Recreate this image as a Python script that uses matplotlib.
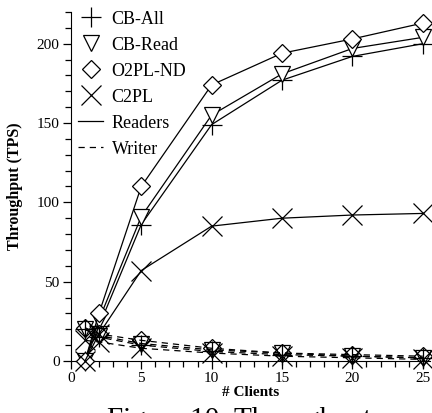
import matplotlib.pyplot as plt
from matplotlib.lines import Line2D
from matplotlib.ticker import MultipleLocator

plt.rcParams['font.family'] = ['Liberation Serif', 'DejaVu Serif']

clients = [1, 2, 5, 10, 15, 20, 25]

# reader throughput (solid lines)
cb_all_readers = [0, 22, 86, 149, 177, 192, 200]
cb_read_readers = [0, 26, 91, 155, 181, 197, 204]
o2pl_readers = [0, 30, 110, 174, 194, 203, 213]
c2pl_readers = [0, 17, 57, 85, 90, 92, 93]

# writer throughput (dashed lines)
cb_all_writer = [20, 15, 10, 6, 4, 3, 2]
cb_read_writer = [20, 16, 11, 7, 5, 3, 2]
o2pl_writer = [21, 17, 13, 8, 5, 4, 3]
c2pl_writer = [13, 12, 8, 5, 3, 2, 1]

schemes = ['CB-All', 'CB-Read', 'O2PL-ND', 'C2PL']
markers = ['+', 'v', 'D', 'x']
sizes = [14, 11, 9, 14]
readers = [cb_all_readers, cb_read_readers, o2pl_readers, c2pl_readers]
writers = [cb_all_writer, cb_read_writer, o2pl_writer, c2pl_writer]
dash = (5, 4)

fig = plt.figure(figsize=(4.32, 4.13), dpi=100)
ax = fig.add_axes([0.164, 0.126, 0.831, 0.845])

for r, w, m, s in zip(readers, writers, markers, sizes):
    ax.plot(clients, r, '-', color='black', lw=0.9, marker=m, ms=s,
            mfc='white', mec='black', mew=0.9, clip_on=False, zorder=3)
    ax.plot(clients, w, color='black', lw=0.9, dashes=dash, marker=m, ms=s,
            mfc='none', mec='black', mew=0.9, clip_on=False, zorder=3)

ax.set_xlim(0, 25.5)
ax.set_ylim(0, 220)
ax.xaxis.set_major_locator(MultipleLocator(5))
ax.xaxis.set_minor_locator(MultipleLocator(1))
ax.yaxis.set_major_locator(MultipleLocator(50))
ax.yaxis.set_minor_locator(MultipleLocator(10))
ax.spines['top'].set_visible(False)
ax.spines['right'].set_visible(False)
ax.tick_params(which='both', direction='out', width=0.9, labelsize=11)
ax.tick_params(which='major', length=6, pad=2)
ax.tick_params(which='minor', length=4)

ax.set_xlabel('# Clients', fontsize=11, fontweight='bold', labelpad=1)
ax.set_ylabel('Throughput (TPS)', fontsize=11.5, fontweight='bold', labelpad=10)

handles = [Line2D([], [], ls='none', marker=m, ms=s, mfc='white', mec='black',
                  mew=0.9, color='black') for m, s in zip(markers, sizes)]
handles += [Line2D([], [], ls='-', color='black', lw=0.9),
            Line2D([], [], color='black', lw=0.9, dashes=dash)]
ax.legend(handles, schemes + ['Readers', 'Writer'], loc='upper left',
          bbox_to_anchor=(-0.01, 1.035), frameon=False, fontsize=13,
          handlelength=1.4, handletextpad=0.45, labelspacing=0.5,
          borderaxespad=0.2)

fig.text(0.248, -0.034, 'Figure 10: Throughput', fontsize=21, ha='left',
         va='baseline')

fig.savefig('out.png', dpi=100)
